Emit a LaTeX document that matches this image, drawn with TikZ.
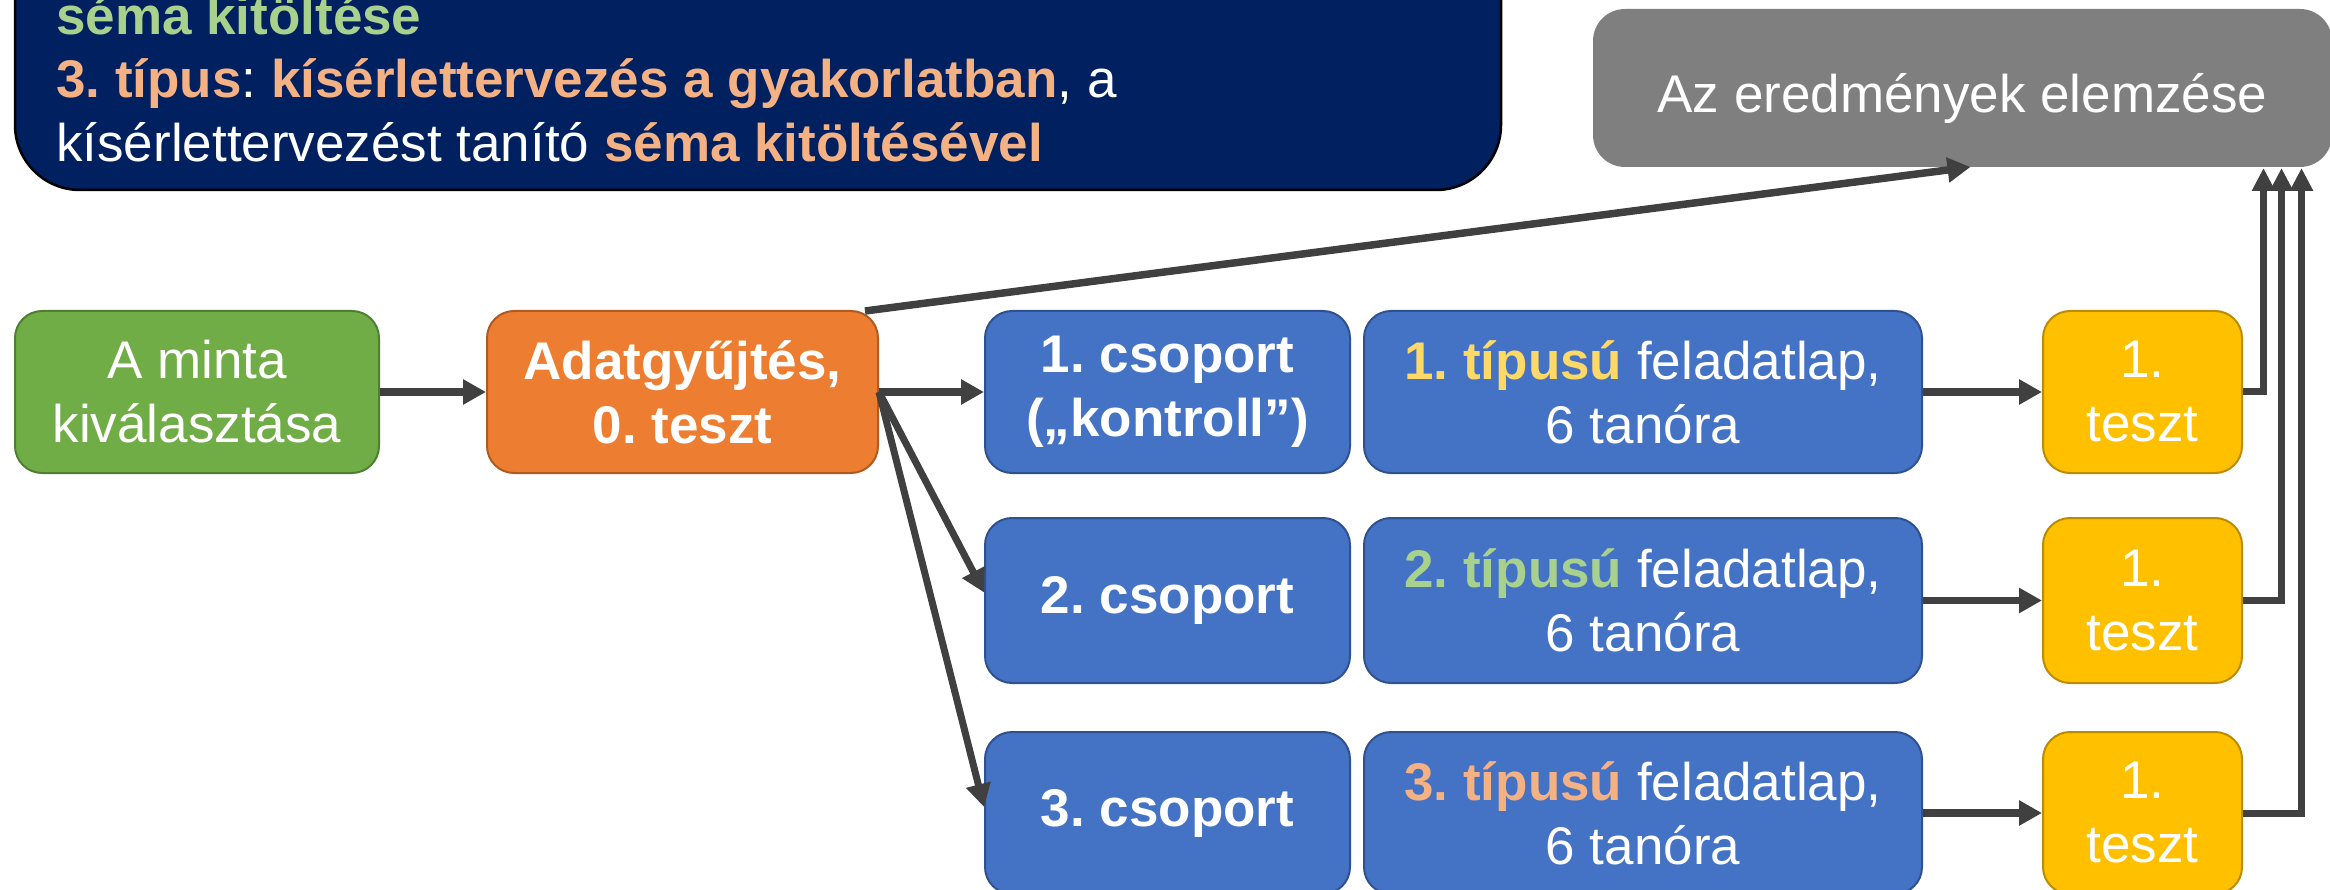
\documentclass[tikz,border=0pt]{standalone}
\usepackage{fontspec}
\setmainfont{Liberation Sans}
\usetikzlibrary{arrows.meta}
\frenchspacing
\definecolor{navy}{HTML}{002060}
\definecolor{grn}{HTML}{70AD47}
\definecolor{grnd}{HTML}{507E32}
\definecolor{org}{HTML}{ED7D31}
\definecolor{orgd}{HTML}{AE5A21}
\definecolor{blu}{HTML}{4472C4}
\definecolor{blud}{HTML}{2F528F}
\definecolor{yel}{HTML}{FFC000}
\definecolor{yeld}{HTML}{BC8C00}
\definecolor{gry}{HTML}{7F7F7F}
\definecolor{lgreen}{HTML}{A9D18E}
\definecolor{lorange}{HTML}{F4B183}
\definecolor{lyellow}{HTML}{FFD966}
\definecolor{conn}{HTML}{404040}
\begin{document}
\begin{tikzpicture}[x=1pt,y=1pt,
  box/.style={rounded corners=27pt, line width=2pt, inner sep=0pt, align=center,
    text=white, font=\fontsize{53}{64}\selectfont\frenchspacing},
  greenbox/.style={box, fill=grn, draw=grnd},
  orangebox/.style={box, fill=org, draw=orgd},
  bluebox/.style={box, fill=blu, draw=blud},
  yellowbox/.style={box, fill=yel, draw=yeld},
  navytext/.style={anchor=base west, inner sep=0pt, text=white, font=\fontsize{53}{64}\selectfont\frenchspacing},
  arr/.style={draw=conn, line width=7.5pt, -{Triangle[length=23pt,width=24pt]}},
  thinarr/.style={draw=conn, line width=7pt, -{Triangle[length=23pt,width=24pt]}},
  uparr/.style={draw=conn, line width=7pt, -{Triangle[length=23pt,width=22pt]}}
]
\useasboundingbox (0,0) rectangle (2330,-890);

% navy text box (top cut off)
\draw[fill=navy, draw=black, line width=2.5pt, rounded corners=65pt] (15,120) rectangle (1501,-190);
\node[navytext] (t1) at (56,-35) {\textbf{\color{lgreen}séma kitöltése}};
\node[navytext] (t2) at (56,-98) {\textbf{\color{lorange}3. típus}: \textbf{\color{lorange}kísérlettervezés a gyakorlatban}, a};
\node[navytext] (t3) at (56,-162) {kísérlettervezést tanító \textbf{\color{lorange}séma kitöltésével}};

% gray result box
\node[box, fill=gry, rounded corners=32pt, minimum width=739pt, minimum height=158pt, text height=50pt, text depth=0pt] (g) at (1962.5,-88) {Az eredmények elemzése};

% row nodes
\node[greenbox, minimum width=364pt, minimum height=162pt] (a) at (197,-392) {A minta\\kiválasztása};
\node[orangebox, minimum width=391pt, minimum height=162pt] (o) at (682.5,-392) {\textbf{Adatgyűjtés,}\\\textbf{0. teszt}};

\node[bluebox, minimum width=365pt, minimum height=162pt] (b1) at (1167.5,-392) {\textbf{1. csoport}\\\textbf{(„kontroll”)}};
\node[bluebox, minimum width=365pt, minimum height=165pt] (b2) at (1167.5,-600.5) {\textbf{2. csoport}};
\node[bluebox, minimum width=365pt, minimum height=162pt] (b3) at (1167.5,-813) {\textbf{3. csoport}};

\node[bluebox, minimum width=558pt, minimum height=162pt] (f1) at (1643,-392) {\textbf{\color{lyellow}1. típusú} feladatlap,\\6 tanóra};
\node[bluebox, minimum width=558pt, minimum height=165pt] (f2) at (1643,-600.5) {\textbf{\color{lgreen}2. típusú} feladatlap,\\6 tanóra};
\node[bluebox, minimum width=558pt, minimum height=162pt] (f3) at (1643,-813) {\textbf{\color{lorange}3. típusú} feladatlap,\\6 tanóra};

\node[yellowbox, minimum width=199pt, minimum height=162pt] (y1) at (2142.5,-392) {1.\\teszt};
\node[yellowbox, minimum width=199pt, minimum height=165pt] (y2) at (2142.5,-600.5) {1.\\teszt};
\node[yellowbox, minimum width=199pt, minimum height=162pt] (y3) at (2142.5,-813) {1.\\teszt};

% connectors
\draw[arr] (a.east) -- (o.west);
\draw[arr] (o.east) -- (b1.west);
\draw[thinarr] (o.east) -- ([yshift=8pt]b2.west);
\draw[thinarr] (o.east) -- ([yshift=6pt]b3.west);
\draw[arr] ([xshift=-14pt,yshift=-1pt]o.north east) -- ([xshift=8pt,yshift=1pt]g.south);

\draw[arr] (f1.east) -- (y1.west);
\draw[arr] (f2.east) -- (y2.west);
\draw[arr] (f3.east) -- (y3.west);

\draw[uparr] (y1.east) -| ([xshift=301pt]g.south);
\draw[uparr] (y2.east) -| ([xshift=319pt]g.south);
\draw[uparr] (y3.east) -| ([xshift=339pt]g.south);
\end{tikzpicture}
\end{document}
